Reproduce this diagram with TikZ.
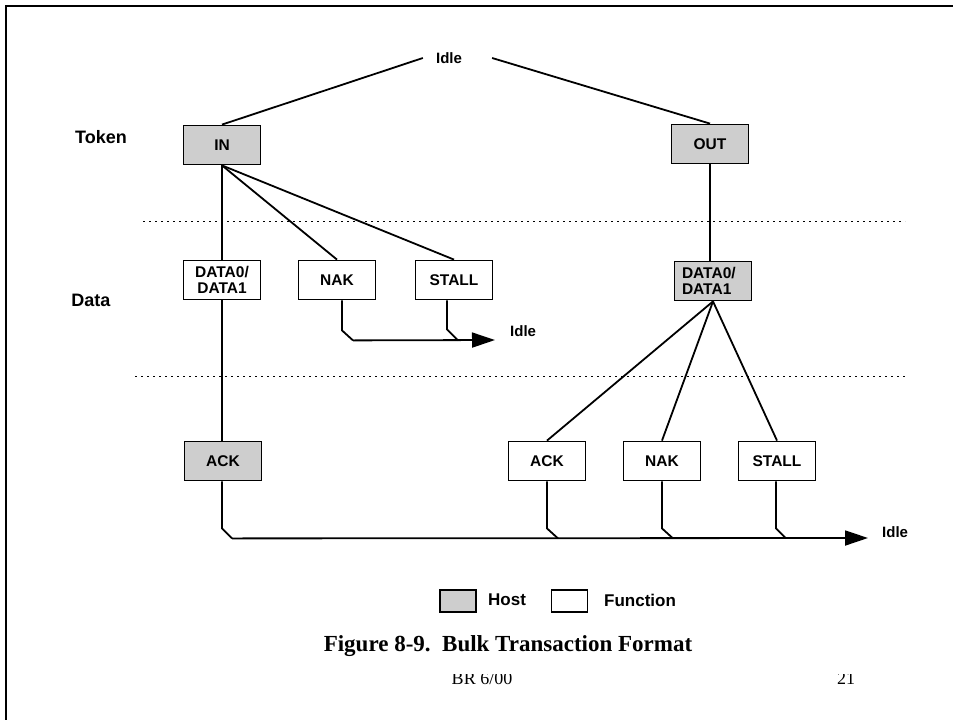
\documentclass[tikz,border=0pt]{standalone}
\usepackage{fontspec}
\setmainfont{Liberation Serif}
\newfontfamily\arialf{Liberation Sans}
\usetikzlibrary{arrows.meta}
\definecolor{hostgray}{RGB}{206,206,206}
\tikzset{
  pkt/.style={draw=black, line width=1.8pt, minimum width=77pt, minimum height=39pt, inner sep=0pt,
    font=\arialf\bfseries\fontsize{15.5}{16.5}\selectfont, align=center},
  hostbox/.style={pkt, fill=hostgray},
  funcbox/.style={pkt, fill=white},
  conn/.style={line width=1.8pt},
  flow/.style={line width=1.8pt, -{Triangle[length=23pt,width=15pt]}},
  sep/.style={line width=1pt, dash pattern=on 2pt off 4pt},
  lbl/.style={font=\arialf\bfseries\fontsize{15}{16}\selectfont, inner sep=0pt},
  rowlbl/.style={font=\arialf\bfseries\fontsize{18}{20}\selectfont, inner sep=0pt},
  leg/.style={font=\arialf\bfseries\fontsize{17}{19}\selectfont, inner sep=0pt},
  legbox/.style={draw=black, line width=1.8pt, minimum width=36pt, minimum height=22pt, inner sep=0pt}
}
\begin{document}
\begin{tikzpicture}[x=1pt,y=-1pt]
\useasboundingbox (0,0) rectangle (953,720);
% page frame
\draw[line width=2.5pt] (6,720) -- (6,6) -- (953,6);

% row labels
\node[rowlbl] (token) at (101,137) {Token};
\node[rowlbl] (data) at (91,300) {Data};

% separators
\coordinate (s1a) at (143,221); \coordinate (s1b) at (905,221);
\coordinate (s2a) at (135,376); \coordinate (s2b) at (907,376);
\draw[sep] (s1a) -- (s1b);
\draw[sep] (s2a) -- (s2b);

% nodes
\node[lbl, inner xsep=13pt] (idle) at (449,58) {Idle};
\node[hostbox] (in) at (222,145) {IN};
\node[hostbox] (out) at (710,144) {OUT};
\node[funcbox] (d1) at (222,280) {DATA0/\\DATA1};
\node[funcbox] (nak1) at (337,280) {NAK};
\node[funcbox] (stall1) at (454,280) {STALL};
\node[hostbox, align=left, text width=62pt] (d2) at (713,281) {DATA0/\\DATA1};
\node[hostbox] (ack1) at (223,461) {ACK};
\node[funcbox] (ack2) at (547,461) {ACK};
\node[funcbox] (nak2) at (662,461) {NAK};
\node[funcbox] (stall2) at (777,461) {STALL};

% connectors from above
\draw[conn] (idle.west) -- (in.north);
\draw[conn] ([xshift=17pt]idle.east) -- (out.north);
\draw[conn] (in.south) -- (d1.north);
\draw[conn] (in.south) -- (nak1.north);
\draw[conn] (in.south) -- (stall1.north);
\draw[conn] (out.south) -- (out.south |- d2.north);
\draw[conn] (d1.south) -- (ack1.north -| d1.south);
\draw[conn] (d2.south) -- (ack2.north);
\draw[conn] (d2.south) -- (nak2.north);
\draw[conn] (d2.south) -- (stall2.north);

% data-stage exit to Idle
\coordinate (e1) at (495,340);
\node[lbl, anchor=west] (idle2) at (510,331) {Idle};
\draw[conn] ([xshift=5pt]nak1.south) -- ++(0,30) -- ++(11,10) coordinate (j1);
\draw[flow] (j1) -- (e1);
\draw[conn] ([xshift=-7pt]stall1.south) -- ++(0,29) -- ++(11,11);

% handshake-stage exit to Idle
\coordinate (e2) at (868,538);
\node[lbl, anchor=west] (idle3) at (882,532) {Idle};
\draw[conn] ([xshift=-1pt]ack1.south) -- ++(0,47) -- ++(10,10) coordinate (j2);
\draw[flow] (j2) -- (e2);
\draw[conn] (ack2.south) -- ++(0,47) -- ++(11,10);
\draw[conn] (nak2.south) -- ++(0,47) -- ++(11,10);
\draw[conn] ([xshift=-1pt]stall2.south) -- ++(0,47) -- ++(10,10);

% legend
\node[legbox, fill=hostgray] (lhost) at (458,601) {};
\node[leg, anchor=west] (thost) at (488,600) {Host};
\node[legbox, fill=white] (lfunc) at (569.5,601) {};
\node[leg, anchor=west] (tfunc) at (604,600) {Function};

% caption
\node[font=\bfseries\fontsize{23}{26}\selectfont, inner sep=0pt] (cap) at (508,646) {Figure 8-9.\ \ Bulk Transaction Format};
\begin{scope}
\clip (0,674) rectangle (953,720);
\node[font=\fontsize{18}{20}\selectfont, inner sep=0pt, anchor=base] (br) at (482,684) {BR 6/00};
\node[font=\fontsize{18}{20}\selectfont, inner sep=0pt, anchor=base] (pg) at (846,684) {21};
\end{scope}
\end{tikzpicture}
\end{document}
